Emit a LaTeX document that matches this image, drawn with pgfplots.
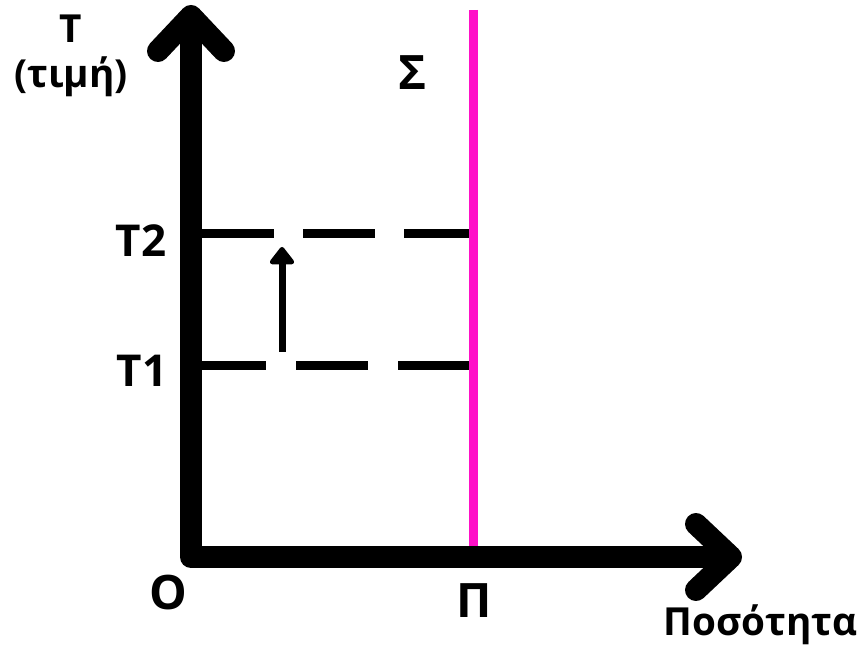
\documentclass[border=0pt]{standalone}
\usepackage{fontspec}
\setmainfont{Open Sans}
\usepackage{pgfplots}
\pgfplotsset{compat=1.18}
\usetikzlibrary{arrows.meta}

\definecolor{supply}{RGB}{255,16,200}

\begin{document}
\begin{tikzpicture}
\begin{axis}[
    scale only axis,
    width=8.62cm, height=6.49cm,
    xmin=0, xmax=862,
    ymin=0, ymax=649,
    y dir=reverse,
    axis lines=none,
    clip=false,
    every axis plot/.append style={no markers},
    nodes={font=\bfseries},
]
% dashed price levels
\addplot[black, line width=0.9mm, dash pattern=on 7.2mm off 2.9mm]
    coordinates {(202,234) (470,234)};
\addplot[black, line width=0.9mm, dash pattern=on 7.2mm off 3mm, dash phase=0.8mm]
    coordinates {(202,366) (470,366)};
% supply (vertical)
\addplot[supply, line width=0.9mm] coordinates {(473.5,10) (473.5,548)};
% small arrow T1 -> T2
\addplot[black, line width=0.7mm, -{Triangle[width=2.8mm,length=1.9mm,round]}]
    coordinates {(282,352) (282,247)};
% axes
\addplot[black, line width=2.2mm, line join=round]
    coordinates {(191,20) (191,557) (731,557)};
\addplot[black, line width=2.2mm, line join=round, line cap=round]
    coordinates {(158,51) (191,16) (224,51)};
\addplot[black, line width=2.2mm, line join=round, line cap=round]
    coordinates {(696,524) (731,557) (696,590)};

% labels
\node[anchor=base, font=\bfseries\fontsize{11}{12}\selectfont] at (axis cs:71,43) {T};
\node[anchor=base, font=\bfseries\fontsize{11}{12}\selectfont] at (axis cs:71,88) {(τιμή)};
\node[anchor=base, font=\bfseries\fontsize{13.5}{15}\selectfont] at (axis cs:413,90) {Σ};
\node[anchor=base, font=\bfseries\fontsize{12.5}{14}\selectfont] at (axis cs:141,257) {T2};
\node[anchor=base, font=\bfseries\fontsize{12.5}{14}\selectfont] at (axis cs:142,386) {T1};
\node[anchor=base, font=\bfseries\fontsize{13.5}{15}\selectfont] at (axis cs:168,609) {O};
\node[anchor=base, font=\bfseries\fontsize{13.5}{15}\selectfont] at (axis cs:474,617) {Π};
\node[anchor=base east, inner sep=0pt, font=\bfseries\fontsize{11}{12}\selectfont] at (axis cs:858,635) {Ποσότητα};
\end{axis}
\pgfresetboundingbox
\path (current axis.south west) rectangle (current axis.north east);
\end{tikzpicture}
\end{document}
